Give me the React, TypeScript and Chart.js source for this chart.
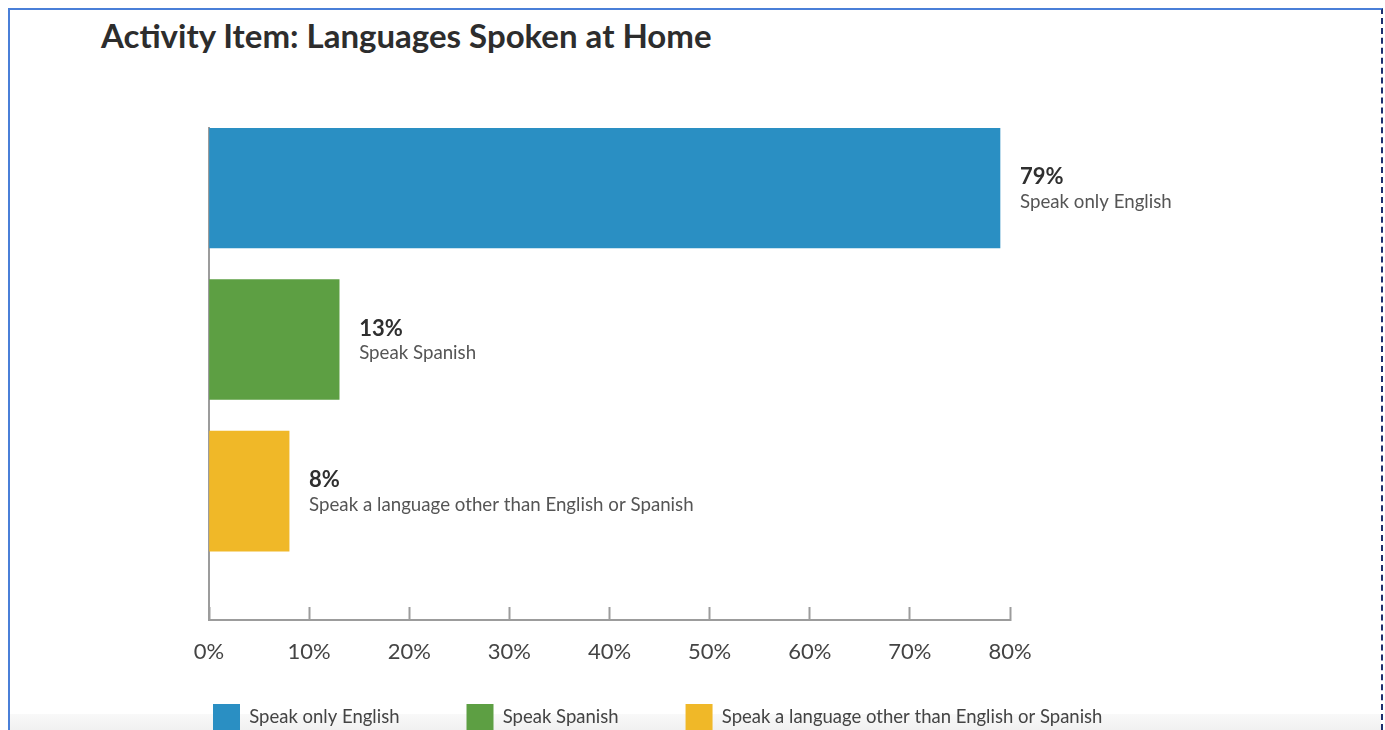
import React, { useEffect, useRef } from "react";
import { Chart, registerables } from "chart.js";

Chart.register(...registerables);

const TITLE = "Activity Item: Languages Spoken at Home";
const categories = [
  "Speak only English",
  "Speak Spanish",
  "Speak a language other than English or Spanish",
];
const values = [79, 13, 8];
const colors = ["#2a8fc3", "#5d9f43", "#f0b828"];
const xTicks = [0, 10, 20, 30, 40, 50, 60, 70, 80];

const FONT = "Lato, 'Open Sans', sans-serif";
const AXIS_COLOR = "#9c9c9c";

const barLabels = {
  id: "barLabels",
  afterDatasetsDraw(chart: any) {
    const ctx = chart.ctx;
    const meta = chart.getDatasetMeta(0);
    ctx.save();
    ctx.textAlign = "left";
    ctx.textBaseline = "alphabetic";
    meta.data.forEach((bar: any, i: number) => {
      const x = bar.x + 20;
      ctx.font = `bold 22px ${FONT}`;
      ctx.fillStyle = "#2f2f2f";
      ctx.fillText(values[i] + "%", x, bar.y - 4);
      ctx.font = `18.7px ${FONT}`;
      ctx.fillStyle = "#555555";
      ctx.fillText(categories[i], x, bar.y + 19.5);
    });
    ctx.restore();
  },
};

export default function App() {
  const ref = useRef<HTMLCanvasElement | null>(null);

  useEffect(() => {
    if (!ref.current) return;
    const chart = new Chart(ref.current, {
      type: "bar",
      data: {
        datasets: [
          {
            data: values.map((v, i) => ({ x: v, y: i })) as any,
            backgroundColor: colors,
            borderWidth: 0,
            barThickness: 120,
          },
        ],
      },
      options: {
        indexAxis: "y",
        responsive: false,
        animation: false,
        events: [],
        layout: { padding: { left: 136, top: 118, right: 0, bottom: 0 } },
        scales: {
          x: {
            type: "linear",
            min: 0,
            max: 80,
            afterBuildTicks: (s: any) => {
              s.ticks = xTicks.map((v) => ({ value: v }));
            },
            ticks: {
              callback: (v: any) => v + "%",
              font: { family: FONT, size: 22 },
              color: "#444444",
              padding: -45,
              mirror: true,
              maxRotation: 0,
              autoSkip: false,
            },
            grid: {
              display: true,
              drawOnChartArea: false,
              drawTicks: true,
              tickLength: -13,
              tickColor: AXIS_COLOR,
              tickWidth: 2,
              color: AXIS_COLOR,
            },
            border: { display: true, color: AXIS_COLOR, width: 2 },
            afterFit: (s: any) => {
              s.height = 17;
            },
          },
          y: {
            type: "linear",
            reverse: true,
            offset: false,
            min: -0.396,
            max: 2.851,
            ticks: { display: false },
            grid: { display: false, offset: false },
            border: { display: true, color: AXIS_COLOR, width: 2 },
            afterFit: (s: any) => {
              s.width = 63;
            },
          },
          yRight: {
            type: "linear",
            position: "right",
            display: true,
            ticks: { display: false },
            grid: { display: false },
            border: { display: false },
            afterFit: (s: any) => {
              s.width = 371;
            },
          },
        },
        plugins: {
          tooltip: { enabled: false },
          title: { display: false },
          legend: {
            display: true,
            position: "bottom",
            align: "start",
            labels: {
              boxWidth: 27,
              boxHeight: 27,
              padding: 67,
              color: "#444444",
              font: { family: FONT, size: 18.5 },
              generateLabels: () =>
                categories.map((c, i) => ({
                  text: c,
                  fillStyle: colors[i],
                  strokeStyle: colors[i],
                  lineWidth: 0,
                  hidden: false,
                  index: i,
                  fontColor: "#444444",
                })),
            },
          },
        },
      },
      plugins: [barLabels],
    });
    return () => chart.destroy();
  }, []);

  return (
    <div
      style={{
        position: "fixed",
        top: 8,
        left: 8,
        width: 1375,
        height: 722,
        boxSizing: "border-box",
        borderTop: "2px solid #4a7fd8",
        borderLeft: "2px solid #4a7fd8",
        borderRight: "2px dashed #1d2f6e",
        overflow: "hidden",
        background: "#ffffff",
      }}
    >
      <div
        style={{
          position: "absolute",
          left: 0,
          right: 0,
          bottom: 0,
          height: 16,
          background: "linear-gradient(to bottom, #f9f9f9, #f1f1f1)",
        }}
      />
      <div
        style={{
          position: "absolute",
          left: 91,
          top: 9,
          fontFamily: FONT,
          fontWeight: 700,
          fontSize: 33,
          lineHeight: 1,
          color: "#2d2d2d",
          whiteSpace: "nowrap",
        }}
      >
        {TITLE}
      </div>
      <canvas
        ref={ref}
        width={1371}
        height={731}
        style={{ position: "absolute", left: 0, top: 0, width: 1371, height: 731 }}
      />
    </div>
  );
}
